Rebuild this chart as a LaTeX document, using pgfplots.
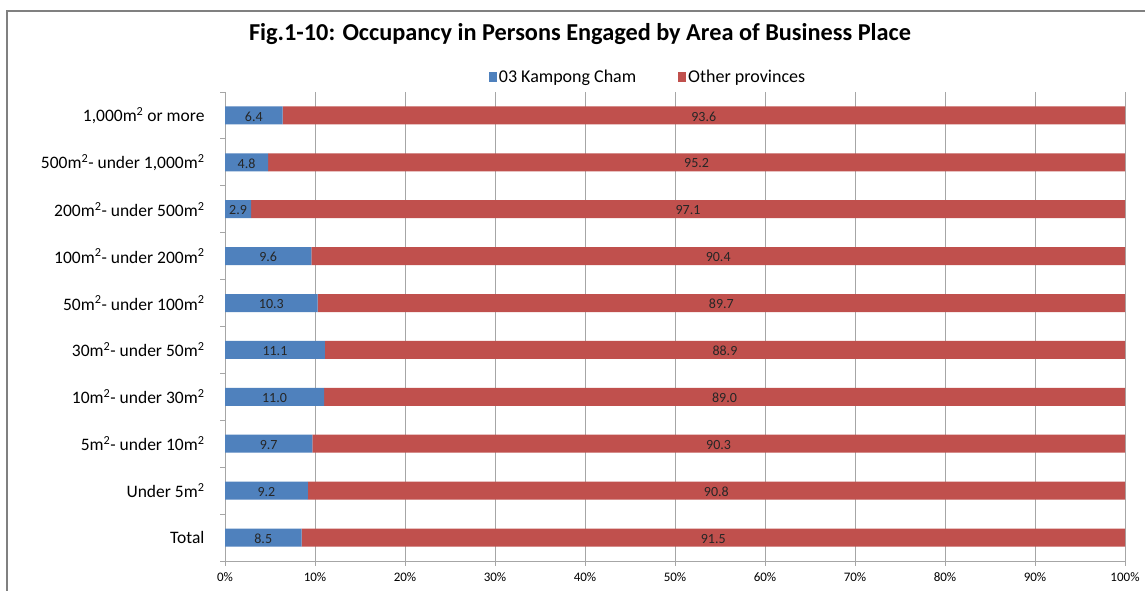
\documentclass[border=0pt]{standalone}
\usepackage{fontspec}
\setmainfont{Carlito}
\usepackage{pgfplots}
\usepackage{pgfplotstable}
\pgfplotsset{compat=1.18}
\definecolor{cblue}{HTML}{4F81BD}
\definecolor{cred}{HTML}{C0504D}
\definecolor{gridgray}{HTML}{A6A6A6}
\pgfplotstableread{
y a b
0 8.5 91.5
1 9.2 90.8
2 9.7 90.3
3 11.0 89.0
4 11.1 88.9
5 10.3 89.7
6 9.6 90.4
7 2.9 97.1
8 4.8 95.2
9 6.4 93.6
}\data
\begin{document}
\begin{tikzpicture}[x=1pt,y=1pt]
\useasboundingbox (0,0) rectangle (1145,591);
\fill[white] (0,0) rectangle (1145,591);
\draw[gray, line width=2pt] (7,-2) -- (7,580) -- (1147,580);
\node[font=\bfseries\fontsize{24.3}{28}\selectfont] at (580,557) {Fig.1-10: Occupancy in Persons Engaged by Area of Business Place};
\begin{axis}[
  at={(225pt,30pt)}, anchor=south west,
  scale only axis, width=900pt, height=469pt,
  xbar stacked, bar width=18pt,
  xmin=0, xmax=100, ymin=-0.5, ymax=9.5,
  axis x line*=bottom, axis y line*=left,
  axis line style={gridgray},
  xmajorgrids, grid style={gridgray, line width=0.8pt},
  xtick={0,10,...,100},
  xticklabel={\pgfmathprintnumber{\tick}\%},
  /pgf/number format/assume math mode=true,
  xticklabel style={font=\fontsize{13}{15}\selectfont, yshift=-3pt},
  tick align=outside,
  major tick length=5pt,
  tick style={gridgray, line width=0.8pt},
  ytick={-0.5,0.5,...,9.5},
  yticklabels={},
  extra y ticks={0,1,...,9},
  extra y tick labels={Total, Under 5m\textsuperscript{2}, 5m\textsuperscript{2}- under 10m\textsuperscript{2}, 10m\textsuperscript{2}- under 30m\textsuperscript{2}, 30m\textsuperscript{2}- under 50m\textsuperscript{2}, 50m\textsuperscript{2}- under 100m\textsuperscript{2}, 100m\textsuperscript{2}- under 200m\textsuperscript{2}, 200m\textsuperscript{2}- under 500m\textsuperscript{2}, 500m\textsuperscript{2}- under 1{,}000m\textsuperscript{2}, {1{,}000m\textsuperscript{2} or more}},
  extra y tick style={tick style={draw=none}, yticklabel style={font=\fontsize{17.5}{20}\selectfont, xshift=-12pt}},
  legend columns=2,
  legend style={at={(0.47,1.032)}, anchor=center, draw=none, font=\fontsize{18}{21}\selectfont, /tikz/every even column/.append style={column sep=40pt}},
  legend image code/.code={\fill[#1] (0pt,-5pt) rectangle (8pt,5pt);},
  nodes near coords,
  point meta=explicit,
  every node near coord/.append style={font=\fontsize{14}{16}\selectfont, color=black!85, anchor=center, yshift=-1pt, /pgf/number format/fixed, /pgf/number format/fixed zerofill, /pgf/number format/precision=1},
]
\addplot[fill=cblue, draw=none] table[x=a, y=y, meta=a] {\data};
\addplot[fill=cred, draw=none] table[x=b, y=y, meta=b] {\data};
\legend{03 Kampong Cham, Other provinces}
\end{axis}
\end{tikzpicture}
\end{document}
